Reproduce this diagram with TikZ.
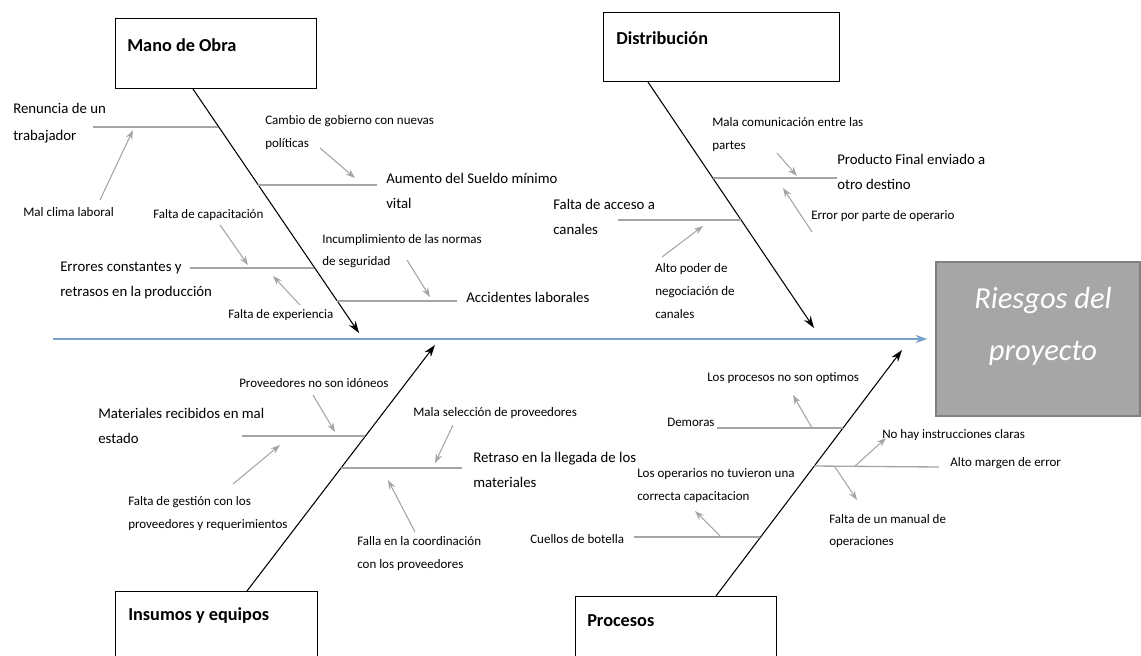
\documentclass[tikz,border=0pt]{standalone}
\usepackage{fontspec}
\setmainfont{Carlito}
\usetikzlibrary{arrows.meta, positioning, calc}
\definecolor{spineblue}{RGB}{122,160,206}
\definecolor{ribgray}{RGB}{165,165,165}
\definecolor{headgray}{RGB}{166,166,166}
\definecolor{headedge}{RGB}{128,128,128}

\begin{document}
\begin{tikzpicture}[x=0.75pt, y=-0.75pt,
    every node/.style={inner sep=0pt, align=left},
    catbox/.style={draw, line width=0.8pt, fill=white, anchor=north west},
    cattitle/.style={anchor=west, font=\fontsize{13.7}{16}\selectfont\bfseries},
    small/.style={anchor=west, font=\fontsize{9.75}{17}\selectfont},
    large/.style={anchor=west, font=\fontsize{11.1}{18.75}\selectfont},
    bone/.style={-{Stealth[length=9pt,width=6pt]}, line width=0.8pt},
    rib/.style={ribgray, line width=1pt},
    hint/.style={-{Stealth[length=7pt,width=5pt]}, ribgray, line width=0.8pt}]
    \useasboundingbox (0,0) rectangle (1141,656);
    \clip (0,0) rectangle (1141,656);

    % head and spine
    \node[draw=headedge, fill=headgray, line width=0.8pt, minimum width=153pt, minimum height=115.5pt] (head) at (1038,339) {};
    \node[font=\fontsize{22.9}{39}\selectfont\itshape, text=white, align=center] (headT) at (1043,326) {Riesgos del\\proyecto};
    \coordinate (tail) at (53,339);
    \draw[spineblue, line width=1.5pt, -{Stealth[length=9pt,width=6pt]}] (tail) -- ([xshift=-6pt]head.west);

    % category boxes
    \node[catbox, minimum width=150.75pt, minimum height=52.5pt] (mo) at (115,18) {};
    \node[cattitle] (moT) at (127,45) {Mano de Obra};
    \node[catbox, minimum width=177pt, minimum height=51.75pt] (di) at (603,12) {};
    \node[cattitle] (diT) at (616,38) {Distribución};
    \node[catbox, minimum width=151.5pt, minimum height=82.5pt] (ins) at (115,591) {};
    \node[cattitle] (insT) at (128,616) {Insumos y equipos};
    \node[catbox, minimum width=150.75pt, minimum height=82.5pt] (pro) at (575,596) {};
    \node[cattitle] (proT) at (587,621) {Procesos};

    % bones
    \coordinate (moTip) at (359,333);
    \coordinate (diTip) at (814,328);
    \coordinate (insTip) at (435,345);
    \coordinate (proTip) at (902,350);
    \draw[bone] ($(mo.south west)+(78,0)$) -- (moTip);
    \draw[bone] ($(di.south west)+(45,0)$) -- (diTip);
    \draw[bone] ($(ins.north west)+(132,0)$) -- (insTip);
    \draw[bone] ($(pro.north west)+(141,0)$) -- (proTip);

    % Mano de Obra
    \node[large, font=\fontsize{11.1}{20.25}\selectfont] (ren) at (13,123.5) {Renuncia de un\\trabajador};
    \node[small] (clima) at (23,212) {Mal clima laboral};
    \node[small] (camb) at (265,132.5) {Cambio de gobierno con nuevas\\políticas};
    \node[large] (aum) at (386,190.5) {Aumento del Sueldo mínimo\\vital};
    \node[large] (err) at (60,280.5) {Errores constantes y\\retrasos en la producción};
    \node[small] (capa) at (153,215) {Falta de capacitación};
    \node[small] (expe) at (228,315) {Falta de experiencia};
    \node[small] (incu) at (322,251) {Incumplimiento de las normas\\de seguridad};
    \node[large] (acc) at (466,297) {Accidentes laborales};
    \path (93,127) coordinate (r1a) (218,127) coordinate (r1b)
          (258,185) coordinate (r2a) (377,185) coordinate (r2b)
          (190,268) coordinate (r3a) (314,268) coordinate (r3b)
          (337,301) coordinate (r4a) (457,301) coordinate (r4b);
    \draw[rib] (r1a) -- (r1b);
    \draw[rib] (r2a) -- (r2b);
    \draw[rib] (r3a) -- (r3b);
    \draw[rib] (r4a) -- (r4b);
    \path (100,200) coordinate (h1a) (133,130) coordinate (h1b)
          (320,148) coordinate (h2a) (355,178) coordinate (h2b)
          (220,225) coordinate (h3a) (248,265) coordinate (h3b)
          (300,305) coordinate (h4a) (273,276) coordinate (h4b)
          (407,260) coordinate (h5a) (430,297) coordinate (h5b);
    \draw[hint] (h1a) -- (h1b);
    \draw[hint] (h2a) -- (h2b);
    \draw[hint] (h3a) -- (h3b);
    \draw[hint] (h4a) -- (h4b);
    \draw[hint] (h5a) -- (h5b);

    % Distribucion
    \node[small] (mala) at (712,134.5) {Mala comunicación entre las\\partes};
    \node[large] (prod) at (837,171.5) {Producto Final enviado a\\otro destino};
    \node[small] (oper) at (811,216) {Error por parte de operario};
    \node[large] (acce) at (553,217) {Falta de acceso a\\canales};
    \node[small] (pode) at (655,291) {Alto poder de\\negociación de\\canales};
    \path (713,178) coordinate (r5a) (837,178) coordinate (r5b)
          (618,220) coordinate (r6a) (741,220) coordinate (r6b);
    \draw[rib] (r5a) -- (r5b);
    \draw[rib] (r6a) -- (r6b);
    \path (777,153) coordinate (h6a) (797,176) coordinate (h6b)
          (812,232) coordinate (h7a) (783,188) coordinate (h7b)
          (662,257) coordinate (h8a) (703,226) coordinate (h8b);
    \draw[hint] (h6a) -- (h6b);
    \draw[hint] (h7a) -- (h7b);
    \draw[hint] (h8a) -- (h8b);

    % Insumos y equipos
    \node[large] (mate) at (98,425.5) {Materiales recibidos en mal\\estado};
    \node[small] (idon) at (239,383) {Proveedores no son idóneos};
    \node[small] (gest) at (128,513.5) {Falta de gestión con los\\proveedores y requerimientos};
    \node[large] (retr) at (473,470) {Retraso en la llegada de los\\materiales};
    \node[small] (sele) at (413,413) {Mala selección de proveedores};
    \node[small] (coor) at (357,553.5) {Falla en la coordinación\\con los proveedores};
    \path (242,436) coordinate (r7a) (365,436) coordinate (r7b)
          (341,468) coordinate (r8a) (462,468) coordinate (r8b);
    \draw[rib] (r7a) -- (r7b);
    \draw[rib] (r8a) -- (r8b);
    \path (313,395) coordinate (h9a) (335,432) coordinate (h9b)
          (233,484) coordinate (h10a) (280,445) coordinate (h10b)
          (453,425) coordinate (h11a) (435,463) coordinate (h11b)
          (415,532) coordinate (h12a) (388,480) coordinate (h12b);
    \draw[hint] (h9a) -- (h9b);
    \draw[hint] (h10a) -- (h10b);
    \draw[hint] (h11a) -- (h11b);
    \draw[hint] (h12a) -- (h12b);

    % Procesos
    \node[small] (opti) at (707,378) {Los procesos no son optimos};
    \node[small] (demo) at (667,422) {Demoras};
    \node[small] (inst) at (882,435) {No hay instrucciones claras};
    \node[small] (marg) at (950,463) {Alto margen de error};
    \node[small] (manu) at (829,531) {Falta de un manual de\\operaciones};
    \node[small] (capc) at (637,485.5) {Los operarios no tuvieron una\\correcta capacitacion};
    \node[small] (cuel) at (530,539) {Cuellos de botella};
    \path (717,428) coordinate (r9a) (843,428) coordinate (r9b)
          (814,466) coordinate (r10a) (939,467) coordinate (r10b)
          (634,537) coordinate (r11a) (760,537) coordinate (r11b);
    \draw[rib] (r9a) -- (r9b);
    \draw[rib] (r10a) -- (r10b);
    \draw[rib] (r11a) -- (r11b);
    \path (812,428) coordinate (h13a) (793,395) coordinate (h13b)
          (855,466) coordinate (h14a) (886,438) coordinate (h14b)
          (835,467) coordinate (h15a) (857,500) coordinate (h15b)
          (720,536) coordinate (h16a) (695,511) coordinate (h16b);
    \draw[hint] (h13a) -- (h13b);
    \draw[hint] (h14a) -- (h14b);
    \draw[hint] (h15a) -- (h15b);
    \draw[hint] (h16a) -- (h16b);
\end{tikzpicture}
\end{document}
